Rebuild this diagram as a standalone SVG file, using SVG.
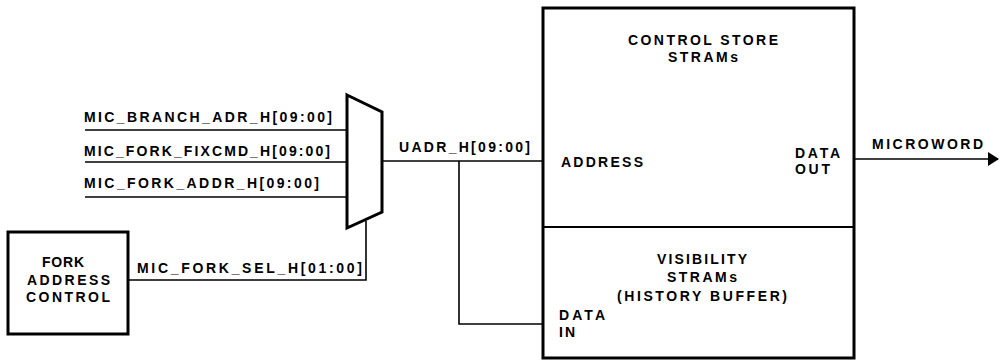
<svg xmlns="http://www.w3.org/2000/svg" width="1000" height="360" viewBox="0 0 1000 360">
<style>
text{font-family:"Liberation Sans",Arial,sans-serif;font-weight:bold;font-size:14px;fill:#000}
.box{fill:#fff;stroke:#000;stroke-width:3}
.wire{fill:none;stroke:#000;stroke-width:1.6}
</style>
<defs>
<marker id="arr" markerWidth="12" markerHeight="14" refX="10" refY="7" orient="auto" markerUnits="userSpaceOnUse">
<path d="M0,0 L11,7 L0,14 Z" fill="#000"/>
</marker>
</defs>
<rect width="1000" height="360" fill="#fff"/>
<g id="connectors">
<line class="wire" x1="85" y1="130" x2="347" y2="130"/>
<line class="wire" x1="85" y1="162" x2="347" y2="162"/>
<line class="wire" x1="85" y1="197" x2="347" y2="197"/>
<polyline class="wire" points="128,280 366,280 366,221"/>
<line class="wire" x1="382" y1="161" x2="543" y2="161"/>
<polyline class="wire" points="459,161 459,324 543,324"/>
<line class="wire" x1="854" y1="159" x2="998" y2="159" marker-end="url(#arr)"/>
<text x="84" y="122" textLength="248" lengthAdjust="spacing">MIC_BRANCH_ADR_H[09:00]</text>
<text x="84" y="156" textLength="246" lengthAdjust="spacing">MIC_FORK_FIXCMD_H[09:00]</text>
<text x="84" y="188" textLength="235" lengthAdjust="spacing">MIC_FORK_ADDR_H[09:00]</text>
<text x="137" y="273" textLength="225" lengthAdjust="spacing">MIC_FORK_SEL_H[01:00]</text>
<text x="399" y="152" textLength="131" lengthAdjust="spacing">UADR_H[09:00]</text>
<text x="872" y="149" textLength="111" lengthAdjust="spacing">MICROWORD</text>
</g>
<g id="mux">
<polygon class="box" points="347,95 382,112 382,212 347,228"/>
</g>
<g id="fork-address-control">
<rect class="box" x="8" y="232" width="120" height="102"/>
<text x="42" y="267" textLength="42" lengthAdjust="spacing">FORK</text>
<text x="27" y="285" textLength="83" lengthAdjust="spacing">ADDRESS</text>
<text x="26" y="302" textLength="84" lengthAdjust="spacing">CONTROL</text>
</g>
<g id="control-store">
<rect class="box" x="543" y="8" width="311" height="350"/>
<line x1="543" y1="227" x2="854" y2="227" stroke="#000" stroke-width="2"/>
<text x="628" y="45" textLength="150" lengthAdjust="spacing">CONTROL STORE</text>
<text x="668" y="62" textLength="70" lengthAdjust="spacing">STRAMs</text>
<text x="561" y="167" textLength="82" lengthAdjust="spacing">ADDRESS</text>
<text x="795" y="158" textLength="45" lengthAdjust="spacing">DATA</text>
<text x="795" y="174" textLength="35" lengthAdjust="spacing">OUT</text>
</g>
<g id="visibility-strams">
<text x="657" y="264" textLength="90" lengthAdjust="spacing">VISIBILITY</text>
<text x="667" y="282" textLength="70" lengthAdjust="spacing">STRAMs</text>
<text x="617" y="301" textLength="170" lengthAdjust="spacing">(HISTORY BUFFER)</text>
<text x="559" y="320" textLength="46" lengthAdjust="spacing">DATA</text>
<text x="559" y="337" textLength="16" lengthAdjust="spacing">IN</text>
</g>
</svg>
